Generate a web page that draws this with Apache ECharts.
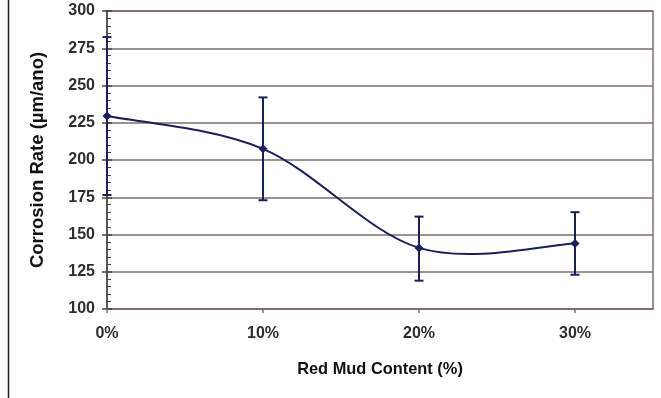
<!DOCTYPE html>
<html>
<head>
<meta charset="utf-8">
<script src="https://cdn.jsdelivr.net/npm/echarts@6/dist/echarts.min.js"></script>
<style>
html,body{margin:0;padding:0;background:#fff;}
#c{width:661px;height:398px;}
</style>
</head>
<body>
<div id="c"></div>
<script>
const redMud = [0, 10, 20, 30];
const corrosion = [229.5, 207.5, 141, 144];
const errLow = [176.5, 173, 119, 123];
const errHigh = [282.5, 242, 162, 165];
const xTicks = ['0%', '10%', '20%', '30%'];

const navy = '#1b1f5e';
const grid = '#77716c';
const font = 'Liberation Sans, Arial, sans-serif';

const chart = echarts.init(document.getElementById('c'));

// Excel-like smoothed line (Catmull-Rom Bezier) through the data points
function curveItem(params, api) {
  const i = params.dataIndex;
  if (i >= redMud.length - 1) return null;
  const P = k => {
    const j = Math.max(0, Math.min(redMud.length - 1, k));
    return api.coord([redMud[j], corrosion[j]]);
  };
  const p0 = P(i - 1), p1 = P(i), p2 = P(i + 1), p3 = P(i + 2);
  const c1 = [p1[0] + (p2[0] - p0[0]) / 6, p1[1] + (p2[1] - p0[1]) / 6];
  const c2 = [p2[0] - (p3[0] - p1[0]) / 6, p2[1] - (p3[1] - p1[1]) / 6];
  return {
    type: 'bezierCurve',
    shape: {x1: p1[0], y1: p1[1], cpx1: c1[0], cpy1: c1[1], cpx2: c2[0], cpy2: c2[1], x2: p2[0], y2: p2[1]},
    style: {stroke: navy, lineWidth: 2, fill: null}
  };
}

chart.setOption({
  animation: false,
  backgroundColor: '#fff',
  grid: {left: 107, right: 8, top: 11, bottom: 89, show: true, borderColor: grid, borderWidth: 1.5, backgroundColor: '#fff'},
  graphic: [{type: 'line', shape: {x1: 8.5, y1: 0, x2: 8.5, y2: 398}, style: {stroke: '#222', lineWidth: 1.5}}],
  xAxis: {
    type: 'value', min: 0, max: 35, interval: 10,
    name: 'Red Mud Content (%)', nameLocation: 'middle', nameGap: 52,
    nameTextStyle: {fontFamily: font, fontWeight: 'bold', fontSize: 16.4, color: '#111'},
    axisLine: {lineStyle: {color: grid, width: 1.5}},
    axisTick: {show: true, length: 4, lineStyle: {color: grid, width: 1.5}},
    axisLabel: {
      fontFamily: font, fontWeight: 'bold', fontSize: 16, color: '#2e2e2e', margin: 17, showMaxLabel: false,
      formatter: v => { const i = redMud.indexOf(v); return i >= 0 ? xTicks[i] : ''; }
    },
    splitLine: {show: false}
  },
  yAxis: [{
    type: 'value', min: 100, max: 300, interval: 25, position: 'left',
    name: 'Corrosion Rate (µm/ano)', nameLocation: 'middle', nameGap: 60,
    nameTextStyle: {fontFamily: font, fontWeight: 'bold', fontSize: 18.5, color: '#111'},
    axisLine: {show: true, lineStyle: {color: '#4a4440', width: 1.5}},
    axisTick: {show: true, length: 5, lineStyle: {color: '#4a4440', width: 1.5}},
    axisLabel: {fontFamily: font, fontWeight: 'bold', fontSize: 16, color: '#2e2e2e', margin: 12},
    splitLine: {show: true, lineStyle: {color: grid, width: 1.5}}
  }, {
    type: 'value', min: 100, max: 300, interval: 25, position: 'left',
    axisLine: {show: false},
    axisTick: {show: true, inside: true, length: 5, lineStyle: {color: '#4a4440', width: 1.5}},
    minorTick: {show: true, splitNumber: 5, length: 4, lineStyle: {color: '#4a4440', width: 1}},
    axisLabel: {show: false},
    splitLine: {show: false}
  }],
  series: [{
    type: 'custom', z: 3,
    data: redMud.map((x, i) => [x, corrosion[i]]),
    renderItem: curveItem
  }, {
    type: 'line', data: redMud.map((x, i) => [x, corrosion[i]]),
    symbol: 'diamond', symbolSize: 9, z: 5,
    lineStyle: {width: 0, opacity: 0}, itemStyle: {color: navy}
  }, {
    type: 'custom', z: 4,
    data: redMud.map((x, i) => [x, errLow[i], errHigh[i]]),
    renderItem: (params, api) => {
      const lo = api.coord([api.value(0), api.value(1)]);
      const hi = api.coord([api.value(0), api.value(2)]);
      const w = 4.5;
      const st = {stroke: navy, lineWidth: 2};
      return {type: 'group', children: [
        {type: 'line', shape: {x1: lo[0], y1: lo[1], x2: hi[0], y2: hi[1]}, style: st},
        {type: 'line', shape: {x1: lo[0] - w, y1: lo[1], x2: lo[0] + w, y2: lo[1]}, style: st},
        {type: 'line', shape: {x1: hi[0] - w, y1: hi[1], x2: hi[0] + w, y2: hi[1]}, style: st}
      ]};
    }
  }]
});
</script>
</body>
</html>
